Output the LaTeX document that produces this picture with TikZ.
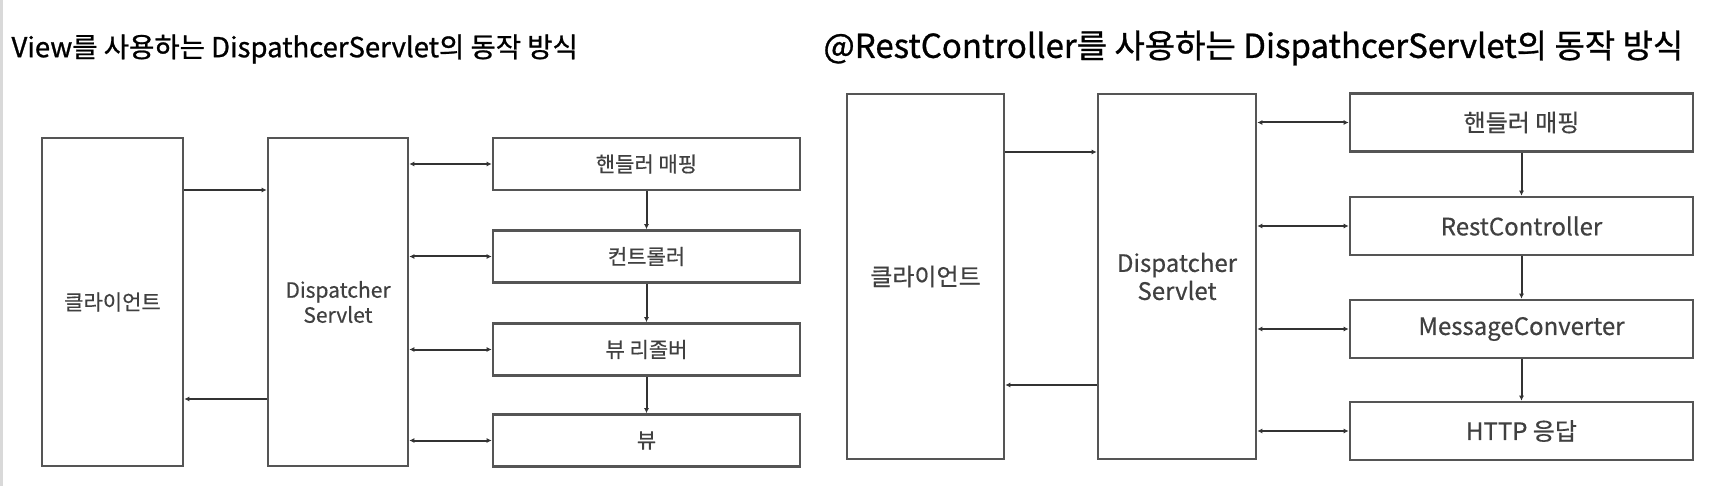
\documentclass[tikz,border=0pt]{standalone}
\usepackage{fontspec}
\setmainfont{Noto Sans CJK KR}[FakeBold=0.5]
\newfontfamily\titlefont{Noto Sans CJK KR}[FakeBold=0.9]
\usetikzlibrary{arrows.meta}
\definecolor{boxline}{HTML}{555555}
\definecolor{boxtext}{HTML}{404040}
\definecolor{edgegray}{HTML}{D9D9D9}
\begin{document}
\begin{tikzpicture}[x=1pt,y=-1pt,
    blk/.style={draw=boxline,line width=2.6pt,text=boxtext,align=center,inner sep=0pt},
    lsmall/.style={font=\fontsize{21}{25}\selectfont},
    lbig/.style={font=\fontsize{24}{28}\selectfont},
    con/.style={draw=black!80,line width=2pt},
    >={Latex[length=5pt,width=5pt]}]
    \useasboundingbox (0,0) rectangle (1710,486);
    \fill[edgegray] (0,0) rectangle (3,486);

    \node(T1) at (8,49)[anchor=west,font=\titlefont\fontsize{27.5}{32}\selectfont]{View를 사용하는 DispathcerServlet의 동작 방식};
    \node(T2) at (820,48)[anchor=west,font=\titlefont\fontsize{33}{38}\selectfont]{@RestController를 사용하는 DispathcerServlet의 동작 방식};

    \node(C1) at (112.5,302)[blk,lsmall,minimum width=141,minimum height=328]{클라이언트};
    \node(D1) at (338,302)[blk,lsmall,minimum width=140,minimum height=328]{Dispatcher\\Servlet};
    \node(H1) at (646.5,164)[blk,lsmall,minimum width=307,minimum height=52]{핸들러 매핑};
    \node(K1) at (646.5,256.5)[blk,lsmall,minimum width=307,minimum height=52]{컨트롤러};
    \node(R1) at (646.5,349.5)[blk,lsmall,minimum width=307,minimum height=52]{뷰 리졸버};
    \node(V1) at (646.5,440.5)[blk,lsmall,minimum width=307,minimum height=52]{뷰};
    \draw [con,->] ([yshift=112pt]C1.east) to ([yshift=112pt]D1.west);
    \draw [con,->] ([yshift=-97pt]D1.west) to ([yshift=-97pt]C1.east);
    \draw [con,<->] (D1.east |- H1) to (H1.west);
    \draw [con,<->] (D1.east |- K1) to (K1.west);
    \draw [con,<->] (D1.east |- R1) to (R1.west);
    \draw [con,<->] (D1.east |- V1) to (V1.west);
    \draw [con,->] (H1.south) to (K1.north);
    \draw [con,->] (K1.south) to (R1.north);
    \draw [con,->] (R1.south) to (V1.north);

    \node(C2) at (925.5,276.5)[blk,lbig,minimum width=157,minimum height=365]{클라이언트};
    \node(D2) at (1177,276.5)[blk,lbig,minimum width=158,minimum height=365]{Dispatcher\\Servlet};
    \node(H2) at (1521.5,122.5)[blk,lbig,minimum width=343,minimum height=58]{핸들러 매핑};
    \node(K2) at (1521.5,226)[blk,lbig,minimum width=343,minimum height=58]{RestController};
    \node(M2) at (1521.5,329)[blk,lbig,minimum width=343,minimum height=58]{MessageConverter};
    \node(P2) at (1521.5,431)[blk,lbig,minimum width=343,minimum height=58]{HTTP 응답};
    \draw [con,->] ([yshift=124.5pt]C2.east) to ([yshift=124.5pt]D2.west);
    \draw [con,->] ([yshift=-108.5pt]D2.west) to ([yshift=-108.5pt]C2.east);
    \draw [con,<->] (D2.east |- H2) to (H2.west);
    \draw [con,<->] (D2.east |- K2) to (K2.west);
    \draw [con,<->] (D2.east |- M2) to (M2.west);
    \draw [con,<->] (D2.east |- P2) to (P2.west);
    \draw [con,->] (H2.south) to (K2.north);
    \draw [con,->] (K2.south) to (M2.north);
    \draw [con,->] (M2.south) to (P2.north);
\end{tikzpicture}
\end{document}
